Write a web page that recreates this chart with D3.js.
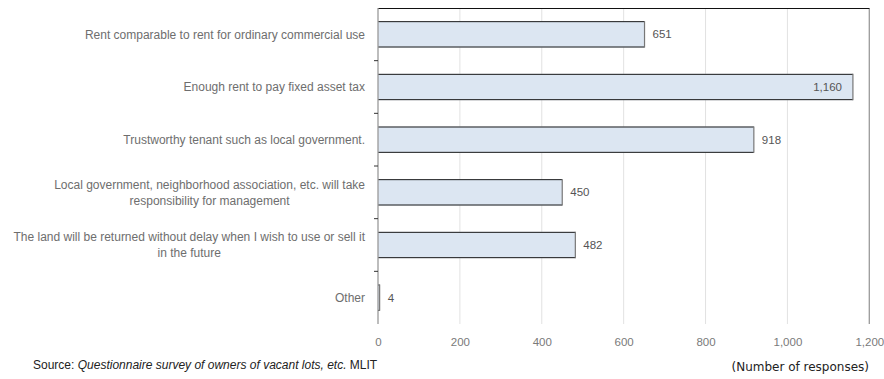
<!DOCTYPE html>
<html>
<head>
<meta charset="utf-8">
<script src="https://cdn.jsdelivr.net/npm/d3@7"></script>
<style>
  html, body { margin: 0; padding: 0; background: #fff; }
  svg { display: block; }
</style>
</head>
<body>
<svg id="chart" width="884" height="379"></svg>
<script>
// Conditions owners want when lending a vacant lot
const categories = [
  ["Rent comparable to rent for ordinary commercial use"],
  ["Enough rent to pay fixed asset tax"],
  ["Trustworthy tenant such as local government."],
  ["Local government, neighborhood association, etc. will take", "responsibility for management"],
  ["The land will be returned without delay when I wish to use or sell it", "in the future"],
  ["Other"]
];
const responses = [651, 1160, 918, 450, 482, 4];
const tickValues = [0, 200, 400, 600, 800, 1000, 1200];
const xMax = 1200;

const svg = d3.select("#chart");
const plotTop = 8, plotBottom = 324, plotLeft = 378, plotRight = 869.3;
const labelRight = 365;

const x = d3.scaleLinear().domain([0, xMax]).range([plotLeft, plotRight]);
const y = d3.scaleBand().domain(d3.range(categories.length))
  .range([plotTop, plotBottom]).paddingInner(0.5).paddingOuter(0.25);
const yOuter = d3.scaleBand().domain(d3.range(categories.length)).range([plotTop, plotBottom]);
const fmt = d3.format(",");

const labelFont = "'Liberation Sans', Arial, sans-serif";

// vertical gridlines
const grid = svg.append("g");
grid.selectAll("line").data(tickValues.slice(1, -1)).join("line")
  .attr("x1", d => x(d)).attr("x2", d => x(d))
  .attr("y1", plotTop).attr("y2", plotBottom)
  .attr("stroke", "#e2e2e2").attr("stroke-width", 1);
// right border of the plot
grid.append("line")
  .attr("x1", x(xMax)).attr("x2", x(xMax))
  .attr("y1", plotTop).attr("y2", plotBottom)
  .attr("stroke", "#9a9a9a").attr("stroke-width", 1.3);
// top border
grid.append("line")
  .attr("x1", x(0)).attr("x2", x(xMax))
  .attr("y1", plotTop + 0.5).attr("y2", plotTop + 0.5)
  .attr("stroke", "#111").attr("stroke-width", 1);

// x tick labels
const xAxis = d3.axisBottom(x).tickValues(tickValues).tickFormat(fmt).tickSize(0).tickPadding(0);
const gx = svg.append("g").attr("transform", "translate(0,338)").call(xAxis);
gx.select(".domain").remove();
gx.selectAll("text")
  .attr("font-family", labelFont).attr("font-size", 11.5).attr("fill", "#7a7a7a");

// bars
const bars = svg.append("g");
bars.selectAll("rect").data(responses).join("rect")
  .attr("x", x(0))
  .attr("y", (d, i) => y(i))
  .attr("width", d => x(d) - x(0))
  .attr("height", y.bandwidth())
  .attr("fill", "#dce6f2");
// bar edges: dark top/bottom rules, grey end cap
bars.selectAll("line.top").data(responses).join("line").attr("class", "top")
  .attr("x1", x(0)).attr("x2", d => x(d))
  .attr("y1", (d, i) => y(i) + 0.5).attr("y2", (d, i) => y(i) + 0.5)
  .attr("stroke", "#1a1a1a").attr("stroke-width", 1);
bars.selectAll("line.bottom").data(responses).join("line").attr("class", "bottom")
  .attr("x1", x(0)).attr("x2", d => x(d))
  .attr("y1", (d, i) => y(i) + y.bandwidth() - 0.5).attr("y2", (d, i) => y(i) + y.bandwidth() - 0.5)
  .attr("stroke", "#1a1a1a").attr("stroke-width", 1);
bars.selectAll("line.end").data(responses).join("line").attr("class", "end")
  .attr("x1", d => x(d)).attr("x2", d => x(d))
  .attr("y1", (d, i) => y(i)).attr("y2", (d, i) => y(i) + y.bandwidth())
  .attr("stroke", "#777").attr("stroke-width", 1.2);

// left axis with category separators
svg.append("line")
  .attr("x1", x(0)).attr("x2", x(0)).attr("y1", plotTop).attr("y2", plotBottom)
  .attr("stroke", "#9a9a9a").attr("stroke-width", 1.3);
svg.append("g").selectAll("line").data(d3.range(1, categories.length)).join("line")
  .attr("x1", x(0) - 4).attr("x2", x(0))
  .attr("y1", i => yOuter(i)).attr("y2", i => yOuter(i))
  .attr("stroke", "#333").attr("stroke-width", 1);

// value labels (the longest bar carries its label inside)
svg.append("g").selectAll("text").data(responses).join("text")
  .attr("x", d => d > 1000 ? x(d) - 11 : x(d) + 8)
  .attr("y", (d, i) => y(i) + y.bandwidth() / 2)
  .attr("dy", "0.35em")
  .attr("text-anchor", d => d > 1000 ? "end" : "start")
  .attr("font-family", labelFont).attr("font-size", 11.5).attr("fill", "#555")
  .text(d => fmt(d));

// category labels: single lines right-aligned, wrapped labels centred in a
// block whose right edge sits at the label column
const catG = svg.append("g");
categories.forEach((lines, i) => {
  const cy = y(i) + y.bandwidth() / 2;
  const multi = lines.length > 1;
  const t = catG.append("text")
    .attr("font-family", labelFont).attr("font-size", 12).attr("fill", "#6e6e6e")
    .attr("text-anchor", multi ? "middle" : "end");
  const spans = lines.map((ln, k) => t.append("tspan")
    .attr("x", labelRight)
    .attr("y", cy + (k - (lines.length - 1) / 2) * 16)
    .attr("dy", "0.35em")
    .text(ln));
  if (multi) {
    const maxW = d3.max(spans, s => s.node().getComputedTextLength());
    spans.forEach(s => s.attr("x", labelRight - maxW / 2));
  }
});

// source note
const src = svg.append("text")
  .attr("x", 33).attr("y", 369)
  .attr("font-family", labelFont).attr("font-size", 12).attr("fill", "#222");
src.append("tspan").text("Source: ");
src.append("tspan").attr("font-style", "italic").text("Questionnaire survey of owners of vacant lots, etc.");
src.append("tspan").text(" MLIT");

// unit note
svg.append("text")
  .attr("x", 869).attr("y", 371)
  .attr("text-anchor", "end")
  .attr("font-family", "'DejaVu Sans', sans-serif").attr("font-size", 12).attr("fill", "#222")
  .text("(Number of responses)");
</script>
</body>
</html>
